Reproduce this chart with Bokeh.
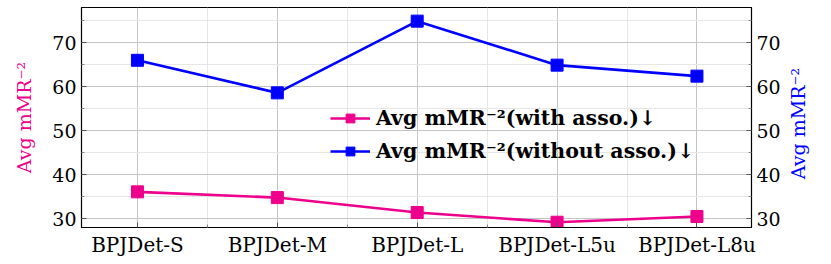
import math
from bokeh.plotting import figure
from bokeh.models import (Range1d, LinearAxis, FixedTicker, Legend, LegendItem)
from bokeh.embed import file_html
from bokeh.resources import INLINE

categories = ["BPJDet-S", "BPJDet-M", "BPJDet-L", "BPJDet-L5u", "BPJDet-L8u"]
with_asso = [36.1, 34.8, 31.4, 29.2, 30.5]
without_asso = [66.0, 58.6, 74.9, 64.9, 62.4]
y_ticks = [30, 40, 50, 60, 70]
y_minor = [35, 45, 55, 65, 75]
axis_title = "Avg mMR⁻²"

PINK = "#ec008c"
BLUE = "#0000ff"
FONT = "DejaVu Serif"
FS = "19px"

xs = list(range(len(categories)))
X0, X1, Y0, Y1 = -0.4, 4.39, 28, 78

p = figure(width=831, height=264, output_backend="svg", toolbar_location=None,
           x_range=Range1d(X0, X1), y_range=Range1d(Y0, Y1),
           min_border_left=81, min_border_right=80, min_border_top=7, min_border_bottom=37)
p.outline_line_color = "black"
p.outline_line_width = 1.2
p.background_fill_color = "white"

p.xaxis.ticker = FixedTicker(ticks=xs, minor_ticks=[i + 0.5 for i in range(-1, 5)])
p.xaxis.major_label_overrides = {i: c for i, c in enumerate(categories)}
p.yaxis.ticker = FixedTicker(ticks=y_ticks, minor_ticks=y_minor)

right = LinearAxis(ticker=FixedTicker(ticks=y_ticks, minor_ticks=y_minor))
p.add_layout(right, "right")

for ax in [p.xaxis[0], p.yaxis[0], right]:
    ax.major_label_text_font = FONT
    ax.major_label_text_font_size = FS
    ax.major_label_text_color = "black"
    ax.axis_line_color = "black"
    ax.major_tick_in = 5
    ax.major_tick_out = 0
    ax.minor_tick_in = 3
    ax.minor_tick_out = 0
    ax.major_tick_line_color = "#555555"
    ax.minor_tick_line_color = "#888888"
    ax.axis_label_text_font = FONT
    ax.axis_label_text_font_size = FS
    ax.axis_label_text_font_style = "normal"

p.xaxis[0].major_label_text_font_size = "20px"

p.yaxis[0].axis_label = axis_title
p.yaxis[0].axis_label_text_color = PINK
p.yaxis[0].axis_label_standoff = 14
p.yaxis[0].major_label_standoff = 5
right.major_label_standoff = 5
p.xaxis[0].major_label_standoff = 5

# right-hand axis title, reading bottom-to-top like the left one
right.axis_label = "\u00a0" * 8 + axis_title
right.axis_label_text_color = BLUE
right.axis_label_orientation = math.pi / 2
right.axis_label_align = "start"
right.axis_label_standoff = 14

p.xgrid.grid_line_color = "#c4c4c4"
p.ygrid.grid_line_color = "#c4c4c4"
p.xgrid.minor_grid_line_color = "#e6e6e6"
p.ygrid.minor_grid_line_color = "#e6e6e6"

l1 = p.line(xs, with_asso, line_color=PINK, line_width=2.6)
s1 = p.scatter(xs, with_asso, marker="square", size=12, fill_color=PINK, line_color=PINK)
l2 = p.line(xs, without_asso, line_color=BLUE, line_width=2.6)
s2 = p.scatter(xs, without_asso, marker="square", size=12, fill_color=BLUE, line_color=BLUE)

legend = Legend(items=[
    LegendItem(label="Avg mMR⁻²(with asso.)↓", renderers=[l1, s1]),
    LegendItem(label="Avg mMR⁻²(without asso.)↓", renderers=[l2, s2]),
], location=(249, 64))
legend.label_text_font = FONT
legend.label_text_font_size = "20.5px"
legend.label_text_font_style = "bold"
legend.label_text_color = "black"
legend.border_line_color = None
legend.background_fill_alpha = 0
legend.glyph_width = 40
legend.glyph_height = 22
legend.spacing = 9
legend.label_standoff = 6
p.add_layout(legend)

open("out.html", "w").write(file_html(p, INLINE))
